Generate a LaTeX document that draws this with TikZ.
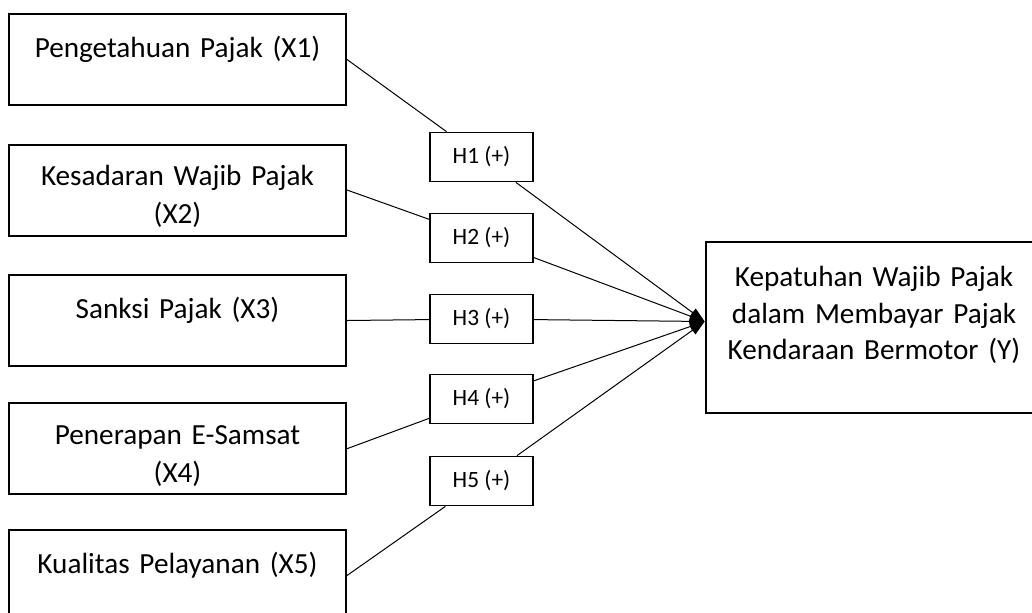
\documentclass[tikz,border=0pt]{standalone}
\usepackage{fontspec}
\setmainfont{Carlito}
\usetikzlibrary{arrows.meta}

\begin{document}
\begin{tikzpicture}[
  x=0.5pt, y=-0.5pt,
  >={Triangle[length=7.5pt,width=5pt]},
  xbox/.style={draw, line width=1pt, inner sep=0pt, text width=168.5pt,
    align=center, font=\fontsize{14.6}{19}\selectfont,
    text height=21.5pt, text depth=24pt},
  xboxtwo/.style={xbox, text height=20.5pt, text depth=25pt},
  ybox/.style={draw, line width=1pt, inner sep=0pt, text width=168.3pt,
    align=center, font=\fontsize{14.6}{18.3}\selectfont,
    text height=22.5pt, text depth=63.3pt},
  hbox/.style={draw, line width=0.6pt, fill=white, inner sep=0pt,
    minimum width=51.5pt, minimum height=24.75pt,
    font=\fontsize{11.7}{14}\selectfont},
  link/.style={line width=0.5pt}
]

\useasboundingbox (0,0) rectangle (1032,612);

\node [xbox] (x1) at (177.5,59.5) {Pengetahuan Pajak (X1)};
\node [xboxtwo] (x2) at (177.5,190) {Kesadaran Wajib Pajak\\(X2)};
\node [xbox] (x3) at (177.5,320.5) {Sanksi Pajak (X3)};
\node [xboxtwo] (x4) at (177.5,448.7) {Penerapan E-Samsat\\(X4)};
\node [xbox] (x5) at (177.5,575.5) {Kualitas Pelayanan (X5)};

\node [ybox] (y) at (874,327.5)
  {Kepatuhan Wajib Pajak\\dalam Membayar Pajak\\Kendaraan Bermotor (Y)};

\node [hbox] (h1) at (481.5,157) {H1 (+)};
\node [hbox] (h2) at (481.5,238) {H2 (+)};
\node [hbox] (h3) at (481.5,319) {H3 (+)};
\node [hbox] (h4) at (481.5,399) {H4 (+)};
\node [hbox] (h5) at (481.5,481) {H5 (+)};

\draw [link] (x1.east) -- (h1);
\draw [link] (x2.east) -- (h2);
\draw [link] (x3.east) -- (h3);
\draw [link] (x4.east) -- (h4);
\draw [link] (x5.east) -- (h5);

\draw [link,->] (h1) -- ([yshift=3pt]y.west);
\draw [link,->] (h2) -- ([yshift=3pt]y.west);
\draw [link,->] (h3) -- ([yshift=3pt]y.west);
\draw [link,->] (h4) -- ([yshift=3pt]y.west);
\draw [link,->] (h5) -- ([yshift=3pt]y.west);

\end{tikzpicture}
\end{document}
